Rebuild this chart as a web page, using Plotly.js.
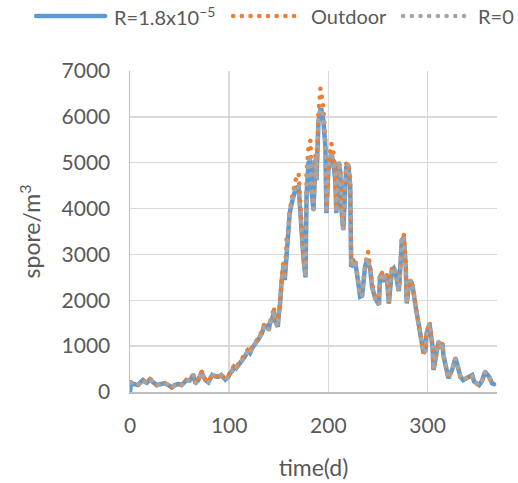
<!DOCTYPE html>
<html>
<head>
<meta charset="utf-8">
<script src="https://cdn.plot.ly/plotly-3.0.1.min.js"></script>
<style>
html,body{margin:0;padding:0;background:#fff;}
#chart{width:518px;height:483px;}
#chart path.js-line, #chart .shapelayer path{stroke-linecap:round !important;}
</style>
</head>
<body>
<div id="chart"></div>
<script>
// time (days)
var days = [
  0,1,4,8,11,13,15,17,20,22,
  24,27,30,32,35,38,42,45,49,52,
  55,57,60,64,66,69,72,74,76,79,
  83,86,89,92,96,99,101,103,105,107,
  110,113,116,119,121,123,126,128,130,133,
  135,137,138,140,141,143,145,146,148,149,
  150,151,153,155,156,158,160,161,163,165,
  167,170,172,173,175,177,178,180,182,183,
  185,187,188,190,191,192,193,195,197,198,
  200,202,203,205,207,208,210,212,213,215,
  216,218,220,222,223,225,227,230,232,234,
  235,237,239,240,242,244,247,251,252,254,
  256,257,259,261,262,264,266,267,269,271,
  272,274,276,278,279,281,283,285,288,289,
  293,296,298,299,302,305,306,308,310,311,
  313,315,316,318,321,325,328,330,333,336,
  339,341,345,347,352,355,358,362,365,367
];
// spore/m3, R = 1.8x10^-5
var r18 = [
  0,200,170,150,220,260,220,200,275,230,
  190,150,170,175,190,160,100,150,175,150,
  200,260,250,370,190,260,430,330,260,210,
  370,340,330,370,270,330,420,450,550,520,
  600,710,780,900,850,950,1030,1100,1170,1280,
  1420,1430,1440,1350,1500,1560,1750,1570,1450,1420,
  1700,1850,2440,2800,2440,3100,3460,3900,4110,4300,
  4450,4480,3750,3390,2880,2500,4300,5000,5050,4400,
  3970,5060,4620,5900,6100,6150,6150,5900,5350,3900,
  4840,5100,5200,5000,4620,3900,5020,4800,4040,3530,
  4000,4900,4950,4500,2730,2800,2850,2400,2080,2100,
  2370,2730,2900,2850,2700,2300,2050,1900,2500,2590,
  2400,2500,2500,1930,2300,2650,2700,2650,2450,2200,
  2500,3300,3380,2730,1930,2300,2440,2300,1860,1720,
  1130,840,915,1280,1480,990,480,700,990,1100,
  950,1060,800,550,300,500,735,600,335,260,
  300,335,370,225,150,250,440,335,190,170
];
// spore/m3, Outdoor
var outdoor = [
  null,210,160,150,230,270,230,200,290,240,
  190,150,165,180,200,150,100,140,180,150,
  210,270,260,390,190,280,460,340,260,210,
  380,350,330,380,280,340,430,480,580,530,
  620,740,800,930,870,980,1060,1130,1200,1320,
  1460,1480,1490,1380,1540,1600,1860,1600,1480,1450,
  1750,1900,2500,2850,2450,3390,3550,3950,4200,4480,
  4620,4770,3800,3400,2900,2550,4770,5350,5490,4500,
  4000,5200,4700,6100,6450,6620,6500,6200,5500,3950,
  4950,5300,5420,5240,4700,3950,5050,4900,4100,3550,
  4050,4980,5020,4620,2750,2880,2920,2500,2100,2120,
  2400,2750,2980,3060,2750,2370,2080,1930,2620,2600,
  2440,2590,2550,1950,2300,2700,2730,2730,2480,2220,
  2510,3310,3460,2800,1950,2370,2440,2300,1860,1720,
  1130,840,915,1300,1530,990,480,700,990,1100,
  950,1080,800,550,300,500,740,600,335,260,
  300,340,370,225,150,250,440,335,190,170
];
// spore/m3, R = 0
var r0 = [
  null,200,170,150,220,260,220,200,280,230,
  190,150,170,175,190,160,100,150,175,150,
  200,265,250,375,190,265,440,330,260,210,
  370,340,330,370,270,330,420,455,555,520,
  600,715,780,905,850,955,1035,1100,1175,1285,
  1430,1440,1450,1360,1510,1570,1780,1580,1455,1430,
  1710,1860,2450,2810,2445,3150,3480,3910,4130,4330,
  4480,4520,3760,3395,2885,2510,4380,5050,5100,4420,
  3980,5090,4640,5950,6120,6170,6170,5950,5380,3910,
  4860,5130,5230,5030,4640,3910,5030,4820,4050,3535,
  4010,4920,4970,4530,2735,2820,2870,2420,2085,2105,
  2380,2740,2920,2880,2710,2320,2060,1910,2530,2595,
  2410,2520,2510,1935,2300,2660,2710,2670,2460,2205,
  2505,3300,3400,2750,1935,2320,2440,2300,1860,1720,
  1130,840,915,1285,1495,990,480,700,990,1100,
  950,1065,800,550,300,500,737,600,335,260,
  300,337,370,225,150,250,440,335,190,170
];
var seriesNames = ['R=1.8x10<sup>\u22125</sup>', 'Outdoor', 'R=0'];
var xTicks = [0, 100, 200, 300];
var yTicks = [0, 1000, 2000, 3000, 4000, 5000, 6000, 7000];

var FONT = 'Lato, "Open Sans", sans-serif';
var TXT = '#595959';
var colors = ['#5b9bd5', '#ed7d31', '#a5a5a5'];
var DOT = '0.1px,8.6px';

var traces = [
  {x: days, y: r18, name: seriesNames[0], type: 'scatter', mode: 'lines',
   line: {color: colors[0], width: 4.5}, hoverinfo: 'skip'},
  {x: days, y: outdoor, name: seriesNames[1], type: 'scatter', mode: 'lines',
   line: {color: colors[1], width: 4.5, dash: DOT}, hoverinfo: 'skip'},
  {x: days, y: r0, name: seriesNames[2], type: 'scatter', mode: 'lines',
   line: {color: colors[2], width: 4.5, dash: DOT}, hoverinfo: 'skip'}
];

// manual legend (symbols long like the reference)
var legY = 1.171;
var legItems = [
  {x0: -0.256, x1: -0.068, tx: -0.050, dash: 'solid', w: 4.5},
  {x0: 0.281, x1: 0.469, tx: 0.488, dash: DOT, w: 4.5},
  {x0: 0.744, x1: 0.925, tx: 0.944, dash: DOT, w: 4.5}
];
var shapes = [], annotations = [];
legItems.forEach(function (it, i) {
  shapes.push({type: 'line', xref: 'paper', yref: 'paper', x0: it.x0, x1: it.x1, y0: legY, y1: legY,
    line: {color: colors[i], width: it.w, dash: it.dash}});
  annotations.push({xref: 'paper', yref: 'paper', x: it.tx, y: legY, xanchor: 'left', yanchor: 'middle',
    text: seriesNames[i], showarrow: false, font: {family: FONT, size: 20, color: TXT}});
});

var layout = {
  width: 518, height: 483,
  margin: {l: 130, r: 21, t: 71, b: 91},
  paper_bgcolor: '#ffffff', plot_bgcolor: '#ffffff',
  showlegend: false,
  font: {family: FONT, color: TXT},
  xaxis: {
    range: [0, 370], tickvals: xTicks, ticktext: xTicks.map(String),
    showgrid: true, gridcolor: '#d9d9d9', gridwidth: 1.5,
    showline: true, linecolor: '#bfbfbf', linewidth: 1.5, zeroline: false,
    ticks: '', ticklabelstandoff: 14,
    tickfont: {family: FONT, size: 21, color: TXT},
    title: {text: 'time(d)', font: {family: FONT, size: 23, color: TXT}, standoff: 24}
  },
  yaxis: {
    range: [0, 7000], tickvals: yTicks, ticktext: yTicks.map(String),
    showgrid: true, gridcolor: '#d9d9d9', gridwidth: 1.5,
    showline: true, linecolor: '#bfbfbf', linewidth: 1.5, zeroline: false,
    ticks: '', ticklabelstandoff: 14,
    tickfont: {family: FONT, size: 21, color: TXT},
    title: {text: 'spore/m<sup>3</sup>', font: {family: FONT, size: 23, color: TXT}, standoff: 14}
  },
  shapes: shapes,
  annotations: annotations
};

Plotly.newPlot('chart', traces, layout, {staticPlot: true, displayModeBar: false});
</script>
</body>
</html>
